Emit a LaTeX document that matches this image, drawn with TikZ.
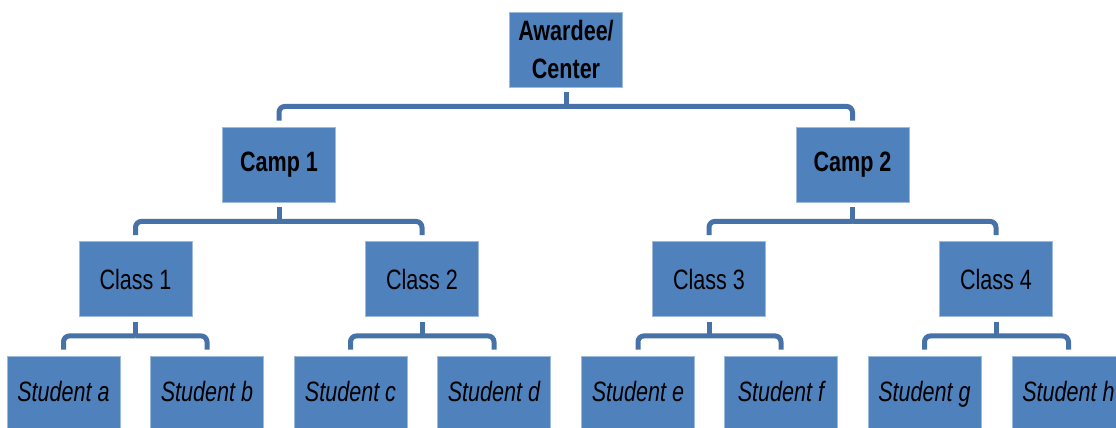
\documentclass[tikz,border=0pt]{standalone}
\usepackage{fontspec}
\setmainfont[FakeStretch=0.77]{Liberation Sans}

\definecolor{boxblue}{RGB}{79,129,189}
\definecolor{linkblue}{RGB}{70,114,167}

\tikzset{
  unit/.style={rectangle, fill=boxblue, draw=boxblue!55!white, line width=0.4pt,
    minimum width=56.5pt, minimum height=37.5pt, inner sep=0pt, align=center,
    font=\fontsize{14}{19}\selectfont},
  head/.style={unit, font=\fontsize{14}{19}\selectfont\bfseries},
  pupil/.style={unit, text height=10pt, text depth=2pt,
    font=\fontsize{14}{19}\selectfont\itshape},
  link/.style={draw=linkblue, line width=2.5pt},
  elbow/.style={link, rounded corners=3pt}
}

\begin{document}
\begin{tikzpicture}[x=0.5pt, y=-0.5pt]
\clip (0,0) rectangle (1116,428);

  \node[head] (center) at (566,49.5) {Awardee/\\Center};

  \node[head] (camp1) at (279,164.5) {Camp 1};
  \node[head] (camp2) at (852.5,164.5) {Camp 2};

  \node[unit] (class1) at (135.5,279) {Class 1};
  \node[unit] (class2) at (422,279) {Class 2};
  \node[unit] (class3) at (709,279) {Class 3};
  \node[unit] (class4) at (996,279) {Class 4};

\foreach \s/\x in {a/63.5, b/207, c/350.5, d/494, e/638, f/781, g/924.5, h/1068.5}
  \node[pupil] (stud\s) at (\x,393.5) {Student \s};

% elbow connectors
\foreach \p/\c in {center/camp1, center/camp2,
    camp1/class1, camp1/class2, camp2/class3, camp2/class4,
    class1/studa, class1/studb, class2/studc, class2/studd,
    class3/stude, class3/studf, class4/studg, class4/studh}
{
  \draw[link] ([yshift=-2.5pt]\p.south) -- ++(0,15.5);
  \draw[elbow] ([yshift=-9.5pt]\p.south) -| ([yshift=3pt]\c.north);
}

\end{tikzpicture}
\end{document}
